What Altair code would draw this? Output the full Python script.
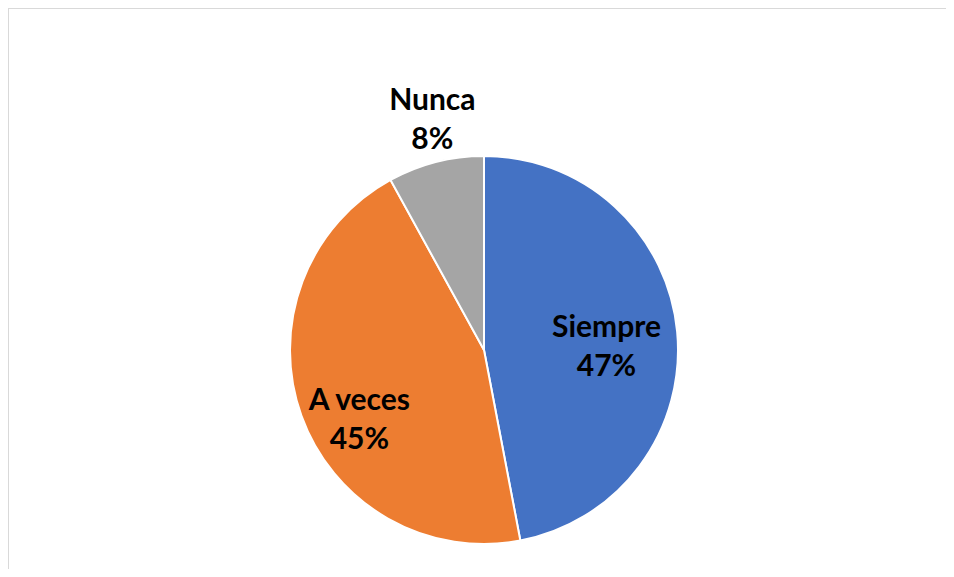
import altair as alt
import pandas as pd

categories = ["Siempre", "A veces", "Nunca"]
values = [47, 45, 8]
order = [1, 2, 3]
colors = ["#4472C4", "#ED7D31", "#A5A5A5"]

df = pd.DataFrame({"cat": categories, "val": values, "ord": order})
df["label"] = [f"{c}\n{v}%" for c, v in zip(categories, values)]

W, H = 938, 561
CX, CY = 476, 342
R = 194
TOTAL = sum(values)

pie = alt.Chart(df).mark_arc(outerRadius=R, stroke="white", strokeWidth=2).encode(
    theta=alt.Theta("val:Q", stack=True),
    order=alt.Order("ord:Q"),
    color=alt.Color("cat:N", scale=alt.Scale(domain=categories, range=colors), legend=None),
    x=alt.value(CX),
    y=alt.value(CY),
)

def label(cat, r, dx, dy):
    return alt.Chart(df).transform_window(
        cum="sum(val)", sort=[alt.SortField("ord")]
    ).transform_calculate(
        mid="datum.cum - datum.val / 2"
    ).transform_filter(
        alt.datum.cat == cat
    ).mark_text(
        radius=r, dx=dx, dy=dy, fontSize=30, font="Lato", fontWeight="bold",
        lineBreak="\n", lineHeight=39, color="black", align="center", baseline="middle",
    ).encode(
        theta=alt.Theta("mid:Q", stack=False, scale=alt.Scale(domain=[0, TOTAL])),
        text="label:N",
        x=alt.value(CX),
        y=alt.value(CY),
    )

border = alt.Chart(df).mark_rule(color="#d9d9d9", strokeWidth=1.5)
top_line = border.encode(x=alt.value(0), x2=alt.value(W), y=alt.value(0))
left_line = border.encode(x=alt.value(0), y=alt.value(0), y2=alt.value(H))

chart = alt.layer(
    top_line,
    left_line,
    pie,
    label("Siempre", 116, 7, -11),
    label("A veces", 142, 9, 3),
    label("Nunca", 236, 7, -20),
).properties(
    width=W, height=H, autosize=alt.AutoSizeParams(type="none"), padding=0,
).configure_view(strokeWidth=0, stroke="transparent")

chart.save("out.html", embed_options={"renderer": "svg", "actions": False})
